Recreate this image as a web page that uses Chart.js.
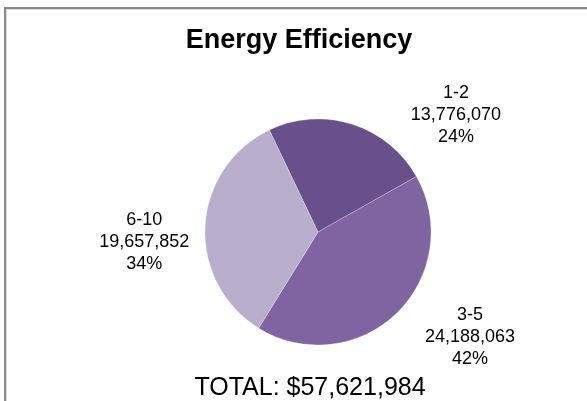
<!DOCTYPE html>
<html>
<head>
<meta charset="utf-8">
<script src="https://cdn.jsdelivr.net/npm/chart.js@4/dist/chart.umd.min.js"></script>
<style>
    html, body { margin: 0; padding: 0; background: #fff; }
    #chart { display: block; }
</style>
</head>
<body>
<canvas id="chart" width="587" height="401"></canvas>
<script>
//Data
let categories = ['1-2', '3-5', '6-10'];
let amounts = [13776070, 24188063, 19657852];
let sliceColors = ['#68508a', '#8064a2', '#b9aecb'];
let chartTitle = 'Energy Efficiency';
let totalText = 'TOTAL: $57,621,984';

let fontName = '"Liberation Sans", Arial, Helvetica, sans-serif';

function formatNumber(n) {
    return n.toLocaleString('en-US');
}

//Frame round the chart
let framePlugin = {
    id: 'frame',
    beforeDraw: function (chart) {
        let ctx = chart.ctx;
        ctx.save();
        ctx.fillStyle = '#8a8a8a';
        ctx.fillRect(4, 7, 2, chart.height - 7);
        ctx.fillRect(4, 7, chart.width - 4, 2);
        ctx.fillStyle = '#dcdcdc';
        ctx.fillRect(6, 9, 1, chart.height - 9);
        ctx.fillRect(6, 9, chart.width - 6, 1);
        ctx.restore();
    }
};

//Title, total and slice labels
let textPlugin = {
    id: 'texts',
    afterDraw: function (chart, args, opts) {
        let ctx = chart.ctx;
        let meta = chart.getDatasetMeta(0);
        let values = chart.data.datasets[0].data;
        let sum = values.reduce((a, b) => a + b, 0);
        ctx.save();
        ctx.fillStyle = '#000';
        ctx.textAlign = 'center';
        ctx.textBaseline = 'alphabetic';

        ctx.font = 'bold 27px ' + fontName;
        ctx.fillText(chartTitle, 299, 48);

        ctx.font = '25px ' + fontName;
        ctx.fillText(totalText, 310, 395);

        ctx.font = '18px ' + fontName;
        ctx.textBaseline = 'middle';
        meta.data.forEach(function (arc, i) {
            let pos = opts.positions[i];
            let a = pos.angle * Math.PI / 180;
            let d = arc.outerRadius * pos.dist;
            let x = arc.x + Math.cos(a) * d;
            let y = arc.y + Math.sin(a) * d;
            let lines = [
                chart.data.labels[i],
                formatNumber(values[i]),
                Math.round(values[i] / sum * 100) + '%'
            ];
            lines.forEach(function (line, j) {
                ctx.fillText(line, x, y + (j - 1) * 22);
            });
        });
        ctx.restore();
    }
};

function loadChart() {
    let ctx = document.getElementById('chart');
    new Chart(ctx, {
        type: 'pie',
        data: {
            labels: categories,
            datasets: [{
                data: amounts,
                backgroundColor: sliceColors,
                borderColor: 'rgba(255, 255, 255, 0.3)',
                borderWidth: 0.75,
                radius: 113
            }]
        },
        options: {
            responsive: false,
            animation: false,
            rotation: -25.5,
            layout: {
                padding: {left: 204, right: 155, top: 118, bottom: 55}
            },
            plugins: {
                legend: {display: false},
                title: {display: false},
                tooltip: {enabled: false},
                texts: {
                    positions: [
                        {angle: -40.3, dist: 1.60},
                        {angle: 34.6, dist: 1.635},
                        {angle: 176.7, dist: 1.54}
                    ]
                }
            }
        },
        plugins: [framePlugin, textPlugin]
    });
}

loadChart();
</script>
</body>
</html>
